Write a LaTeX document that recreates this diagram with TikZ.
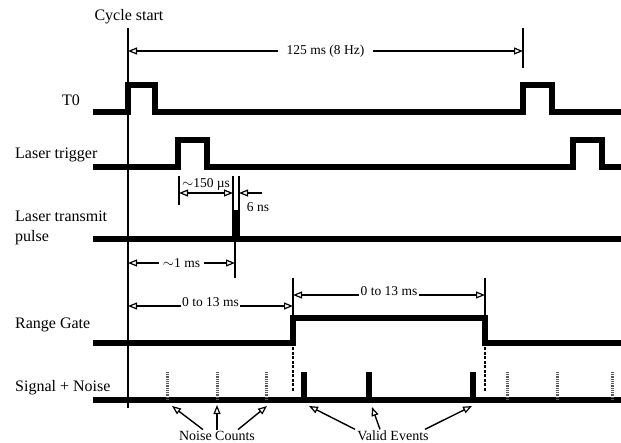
\documentclass[tikz,border=0pt]{standalone}
\usepackage{fontspec}
\setmainfont{Liberation Serif}
\usetikzlibrary{arrows.meta}

\begin{document}
\begin{tikzpicture}[x=1pt, y=-1pt, >={Triangle[open, length=9pt, width=7pt, line width=1.2pt]}]
			\tikzstyle{sig}=[line width=5.5pt, line join=miter]
			\tikzstyle{lbl}=[font=\fontsize{16}{20}\selectfont, anchor=west, align=left, inner sep=0pt]
			\tikzstyle{note}=[font=\fontsize{13.5}{15}\selectfont, inner sep=1.5pt]
			\tikzstyle{thin}=[line width=1.4pt]
			\tikzstyle{dim}=[thin, <->]
			\tikzstyle{noise}=[line width=3pt, black!65, dash pattern=on 1pt off 0.8pt]
			\tikzstyle{event}=[line width=5.5pt]
			\useasboundingbox (0,0) rectangle (621,443);
			% labels
			\node[note, font=\fontsize{16}{18}\selectfont] (start) at (129,17) {Cycle start};
			\node[lbl] (t0) at (62,100) {T0};
			\node[lbl] (trig) at (15,155) {Laser trigger};
			\node[lbl] (pulse) at (15,228) {Laser transmit\\pulse};
			\node[lbl] (gate) at (15,325) {Range Gate};
			\node[lbl] (sn) at (15,388) {Signal + Noise};
			% signals
			\draw[sig] (93,112) -- (128,112) -- (128,85) -- (155,85) -- (155,112) -- (523,112) -- (523,85) -- (552,85) -- (552,112) -- (625,112);
			\draw[sig] (93,167) -- (178,167) -- (178,140) -- (207,140) -- (207,167) -- (573,167) -- (573,140) -- (602,140) -- (602,167) -- (625,167);
			\draw[sig] (93,239) -- (625,239);
			\draw[line width=7.5pt] (236,239) -- (236,210);
			\draw[sig] (93,343) -- (293,343) -- (293,318) -- (485,318) -- (485,343) -- (625,343);
			\draw[sig] (93,400) -- (625,400);
			\foreach \x in {167,217,266,507,557,612}
				\draw[noise] (\x,400) -- (\x,372);
			\foreach \x in {304,369,473}
				\draw[event] (\x,400) -- (\x,372);
			% ticks
			\coordinate (cs) at (128,28);
			\coordinate (ce) at (523,28);
			\draw[thin] (cs) -- (128,408);
			\draw[thin] (ce) -- (523,68);
			\draw[thin] (179,176) -- (179,205);
			\draw[thin] (233,176) -- (233,212);
			\draw[thin] (239,176) -- (239,212);
			\draw[thin] (235,239) -- (235,278);
			\draw[thin] (293,278) -- (293,318);
			\draw[thin] (485,278) -- (485,318);
			\draw[thin, dash pattern=on 3pt off 1.5pt] (293,343) -- (293,392);
			\draw[thin, dash pattern=on 3pt off 1.5pt] (485,343) -- (485,392);
			% dimensions
			\draw[dim] (128,51) -- (523,51) node[midway, note, fill=white, inner xsep=9pt] {125 ms (8 Hz)};
			\draw[dim] (179,193) -- (233,193) node[midway, above, note] {$\sim$150 µs};
			\draw[thin, ->] (262,193) -- (239,193);
			\node[note] (sixns) at (258,207) {6 ns};
			\draw[dim] (128,263) -- (235,263) node[midway, note, fill=white, inner xsep=4pt] {$\sim$1 ms};
			\draw[dim] (128,306) -- (293,306) node[midway, note, fill=white, yshift=4pt] {0 to 13 ms};
			\draw[dim] (293,295) -- (485,295) node[midway, note, fill=white, yshift=4pt] {0 to 13 ms};
			% callouts
			\node[note, font=\fontsize{14}{16}\selectfont] (nc) at (217,436) {Noise Counts};
			\node[note, font=\fontsize{14}{16}\selectfont] (ve) at (393,436) {Valid Events};
			\coordinate (n1) at (172,406);
			\coordinate (n2) at (217,405);
			\coordinate (n3) at (267,406);
			\coordinate (e1) at (309,406);
			\coordinate (e2) at (372,407);
			\coordinate (e3) at (472,406);
			\draw[thin, ->] ([xshift=-14pt]nc.north) -- (n1);
			\draw[thin, ->] (nc.north) -- (n2);
			\draw[thin, ->] ([xshift=21pt]nc.north) -- (n3);
			\draw[thin, ->] ([xshift=-38pt]ve.north) -- (e1);
			\draw[thin, ->] ([xshift=-13pt]ve.north) -- (e2);
			\draw[thin, ->] ([xshift=32pt]ve.north) -- (e3);
		\end{tikzpicture}
\end{document}
